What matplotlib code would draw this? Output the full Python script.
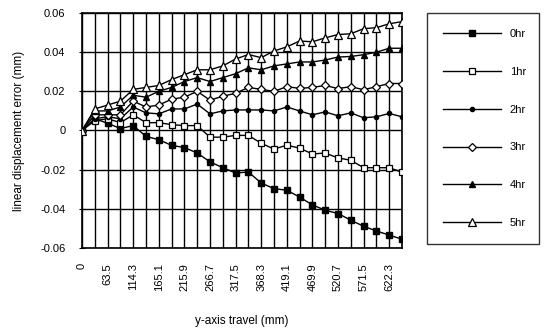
import numpy as np
import matplotlib
matplotlib.use("Agg")
import matplotlib.pyplot as plt

plt.rcParams["font.family"] = ["Liberation Sans", "DejaVu Sans"]

# y-axis travel positions (mm), one category per measurement
travel = [0, 38.1, 63.5, 88.9, 114.3, 139.7, 165.1, 190.5, 215.9, 241.3, 266.7,
          292.1, 317.5, 342.9, 368.3, 393.7, 419.1, 444.5, 469.9, 495.3, 520.7,
          546.1, 571.5, 596.9, 622.3, 647.7]

err_0hr = [0, 0.006, 0.0037, 0.001, 0.0025, -0.003, -0.0047, -0.0076, -0.0087, -0.0115,
           -0.016, -0.019, -0.0217, -0.0212, -0.0268, -0.0297, -0.0305, -0.034, -0.038,
           -0.0407, -0.0424, -0.0458, -0.0489, -0.0513, -0.0534, -0.0555]
err_1hr = [0, 0.005, 0.006, 0.004, 0.008, 0.004, 0.004, 0.003, 0.0025, 0.0025,
           -0.0034, -0.0034, -0.0025, -0.0025, -0.0065, -0.0095, -0.0075, -0.009, -0.012,
           -0.0115, -0.014, -0.0152, -0.019, -0.019, -0.019, -0.0213]
err_2hr = [0, 0.006, 0.007, 0.006, 0.012, 0.009, 0.0085, 0.011, 0.011, 0.0135,
           0.0085, 0.010, 0.0105, 0.0105, 0.0105, 0.010, 0.012, 0.010, 0.008, 0.0095,
           0.0075, 0.009, 0.0065, 0.007, 0.0087, 0.007]
err_3hr = [0, 0.008, 0.008, 0.008, 0.015, 0.012, 0.013, 0.016, 0.017, 0.020,
           0.0155, 0.0175, 0.019, 0.022, 0.021, 0.020, 0.0224, 0.0215, 0.022, 0.023,
           0.0214, 0.0224, 0.0208, 0.0224, 0.024, 0.024]
err_4hr = [0, 0.010, 0.010, 0.012, 0.018, 0.017, 0.020, 0.022, 0.025, 0.027,
           0.025, 0.027, 0.029, 0.032, 0.031, 0.033, 0.034, 0.035, 0.035, 0.036,
           0.0375, 0.0378, 0.0387, 0.040, 0.042, 0.042]
err_5hr = [0, 0.011, 0.013, 0.015, 0.021, 0.022, 0.023, 0.026, 0.0285, 0.031,
           0.031, 0.033, 0.0365, 0.0388, 0.0372, 0.0406, 0.0427, 0.0457, 0.0453, 0.0473,
           0.049, 0.0494, 0.052, 0.0525, 0.0545, 0.0556]

series = [
    ("0hr", err_0hr, dict(marker="s", ms=4.8, mfc="black", mec="black")),
    ("1hr", err_1hr, dict(marker="s", ms=5, mfc="white", mec="black", mew=0.9)),
    ("2hr", err_2hr, dict(marker="o", ms=3, mfc="black", mec="black")),
    ("3hr", err_3hr, dict(marker="D", ms=4.2, mfc="white", mec="black", mew=0.9)),
    ("4hr", err_4hr, dict(marker="^", ms=4, mfc="black", mec="black")),
    ("5hr", err_5hr, dict(marker="^", ms=6, mfc="white", mec="black", mew=0.9)),
]

fig = plt.figure(figsize=(5.44, 3.32), dpi=100)
ax = fig.add_axes([82 / 544, 1 - 248 / 332, 320 / 544, 235 / 332])

x = np.arange(len(travel))
for name, vals, style in series:
    ax.plot(x, vals, color="black", lw=1, label=name, zorder=3, **style)

ax.set_xlim(0, len(travel) - 1)
ax.set_ylim(-0.06, 0.06)
ax.set_yticks(np.arange(-0.06, 0.061, 0.02))
ax.set_yticklabels(["-0.06", "-0.04", "-0.02", "0", "0.02", "0.04", "0.06"])
ax.set_xticks(x)
ax.set_xticklabels([f"{v:g}" if i % 2 == 0 else "" for i, v in enumerate(travel)],
                   rotation=90, va="top")
ax.tick_params(axis="x", length=0, pad=11, labelsize=8)
ax.tick_params(axis="y", direction="inout", length=4, pad=10, labelsize=8)
ax.grid(True, color="black", lw=1)
for s in ax.spines.values():
    s.set_linewidth(1.2)

ax.set_ylabel("linear displacement error (mm)", fontsize=8.5, labelpad=11)
ax.set_xlabel("y-axis travel (mm)", fontsize=8.5, labelpad=17)

leg = ax.legend(loc="upper left", bbox_to_anchor=(427 / 544, 1 - 249 / 332, 112 / 544, 236 / 332),
                bbox_transform=fig.transFigure, mode="expand", numpoints=1,
                fontsize=8, frameon=True, fancybox=False, edgecolor="black",
                handlelength=5.2, handletextpad=0.8, labelspacing=2.5, borderpad=1.45,
                borderaxespad=0)
leg.get_frame().set_linewidth(1)

plt.savefig("out.png", dpi=100)
